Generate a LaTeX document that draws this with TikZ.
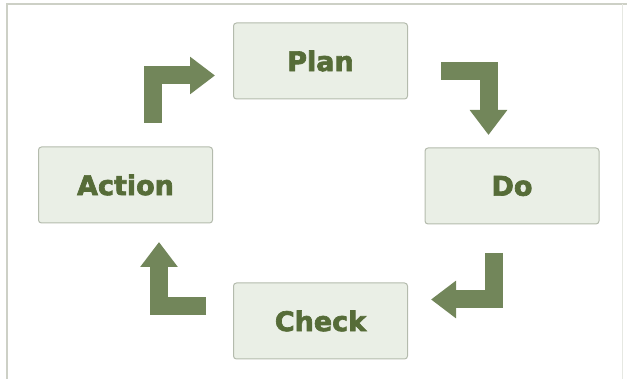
\documentclass[tikz,border=0pt]{standalone}
\usepackage{fontspec}
\setsansfont{DejaVu Sans}[BoldFeatures={FakeBold=2.5}]
\usetikzlibrary{positioning,calc,arrows.meta}
\definecolor{boxfill}{HTML}{EAEFE6}
\definecolor{boxline}{HTML}{B4BBAD}
\definecolor{pdcagreen}{HTML}{72865A}
\definecolor{pdcatext}{HTML}{566C38}
\definecolor{frameline}{HTML}{CDD0C6}

\begin{document}
\begin{tikzpicture}[x=1pt, y=-1pt, node distance=184pt,
  font=\sffamily\bfseries\fontsize{27}{30}\selectfont,
  phase/.style={shape=rectangle, rounded corners=3pt, fill=boxfill, draw=boxline,
    line width=1pt, outer sep=0pt, minimum width=174pt, minimum height=76pt, text=pdcatext},
  turn/.style={draw=pdcagreen, line width=18pt, line cap=butt, line join=miter,
    -{Triangle[length=25pt,width=36pt]}}]
    \useasboundingbox (0,0) rectangle (627,379);
    \draw[frameline, line width=2pt] (7,379) -- (7,4) -- (627,4);
    \draw[frameline!50, line width=1pt] (622,4) -- (622,379);
    %
    \node[phase] (plan) at (320.5,61) {Plan};
    \node[phase, below=of plan] (check) {Check};
    \node[phase] (do) at ($(plan)!0.5!(check)+(191.5,-5)$) {Do};
    \node[phase] (action) at ($(plan)!0.5!(check)+(-195,-6)$) {Action};
    %
    \coordinate (act_plan_a) at (152.5,123);
    \coordinate (act_plan_b) at (215,75.5);
    \coordinate (plan_do_a) at (441,71.5);
    \coordinate (plan_do_b) at (488.5,135);
    \coordinate (do_check_a) at (493.5,253);
    \coordinate (do_check_b) at (431,299.5);
    \coordinate (check_act_a) at (206,306);
    \coordinate (check_act_b) at (159,242);
    %
    \draw[turn] (act_plan_a) |- (act_plan_b);
    \draw[turn] (plan_do_a) -| (plan_do_b);
    \draw[turn] (do_check_a) |- (do_check_b);
    \draw[turn] (check_act_a) -| (check_act_b);
  \end{tikzpicture}
\end{document}
